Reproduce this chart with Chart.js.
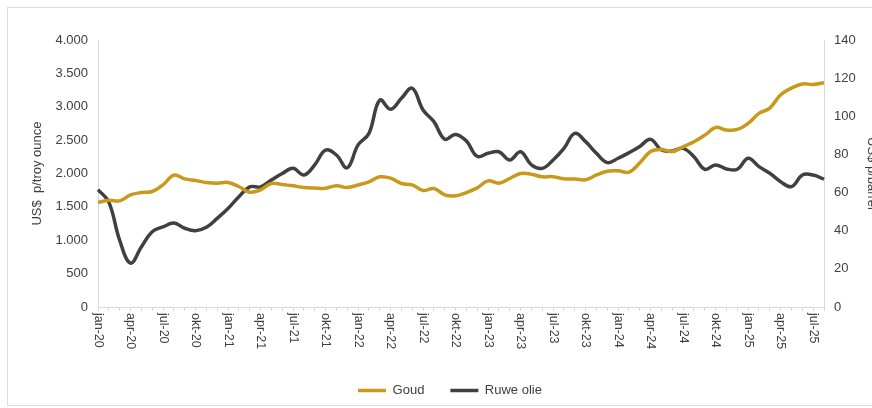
<!DOCTYPE html>
<html>
<head>
<meta charset="utf-8">
<script src="https://cdn.jsdelivr.net/npm/chart.js@4/dist/chart.umd.min.js"></script>
<style>
html,body{margin:0;padding:0;background:#fff;overflow:hidden;width:872px;height:408px;}
#frame{position:absolute;left:7px;top:7px;width:900px;height:397px;border:1px solid #dcdcdc;}
#wrap{position:absolute;left:0;top:0;width:880px;height:408px;}
</style>
</head>
<body>
<div id="frame"></div>
<div id="wrap"><canvas id="c" width="880" height="408"></canvas></div>
<script>
const categories = [
 "jan-20","feb-20","mrt-20","apr-20","mei-20","jun-20","jul-20","aug-20","sep-20","okt-20","nov-20","dec-20",
 "jan-21","feb-21","mrt-21","apr-21","mei-21","jun-21","jul-21","aug-21","sep-21","okt-21","nov-21","dec-21",
 "jan-22","feb-22","mrt-22","apr-22","mei-22","jun-22","jul-22","aug-22","sep-22","okt-22","nov-22","dec-22",
 "jan-23","feb-23","mrt-23","apr-23","mei-23","jun-23","jul-23","aug-23","sep-23","okt-23","nov-23","dec-23",
 "jan-24","feb-24","mrt-24","apr-24","mei-24","jun-24","jul-24","aug-24","sep-24","okt-24","nov-24","dec-24",
 "jan-25","feb-25","mrt-25","apr-25","mei-25","jun-25","jul-25","aug-25"
];
const goud = [
 1565,1600,1590,1680,1715,1730,1830,1975,1920,1895,1865,1855,
 1865,1805,1720,1755,1850,1835,1815,1790,1782,1778,1818,1790,
 1828,1875,1950,1930,1850,1830,1745,1775,1680,1665,1715,1785,
 1890,1855,1925,2000,1988,1950,1952,1920,1918,1905,1978,2035,
 2040,2020,2160,2330,2360,2328,2400,2475,2575,2690,2650,2660,
 2750,2900,2980,3180,3280,3340,3335,3360
];
const ruweOlie = [
 61.5,55,35,23,31.5,39.5,42,44,41.3,40,41.8,46.5,
 51.7,57.8,63,63,66.6,70,72.7,69.2,74.5,82.3,79.7,73,
 85,91,108.5,103.7,109.4,114.7,103.3,97.2,88,90.5,87,79,
 80.6,81.4,77.1,81.4,74.5,72.7,77.1,83.2,91,86.7,80.6,75.7,
 78,80.9,84.2,87.9,82.3,81.8,83.2,78.8,72.2,74.5,72.4,72.2,
 78,73.6,70.1,65.7,63.1,69.2,69.2,67
];
const seriesNames = ["Goud","Ruwe olie"];
const leftTitle = "US$  p/troy ounce";
const rightTitle = "US$ p/barrel";

// Rotated x labels reading top-to-bottom, starting at the axis
Chart.CategoryScale.prototype._getXAxisLabelAlignment = function(){ return 'left'; };

const TXT = '#404040';
const GRID = '#d9d9d9';
Chart.defaults.font.family = "'Liberation Sans', Arial, sans-serif";
Chart.defaults.color = TXT;

const fmt = v => String(v).replace(/\B(?=(\d{3})+(?!\d))/g, '.');

new Chart(document.getElementById('c'), {
  type: 'line',
  data: {
    labels: categories,
    datasets: [
      { label: seriesNames[0], data: goud, yAxisID: 'yL', borderColor: '#C8991A', backgroundColor: '#C8991A',
        borderWidth: 3.5, pointRadius: 0, tension: 0.4, fill: false },
      { label: seriesNames[1], data: ruweOlie, yAxisID: 'yR', borderColor: '#404040', backgroundColor: '#404040',
        borderWidth: 3.5, pointRadius: 0, tension: 0.4, fill: false }
    ]
  },
  options: {
    responsive: false,
    animation: false,
    devicePixelRatio: 1,
    layout: { padding: { left: 20, right: 0, top: 40, bottom: 1 } },
    plugins: {
      tooltip: { enabled: false },
      legend: {
        position: 'bottom',
        labels: { usePointStyle: true, pointStyle: 'line', pointStyleWidth: 28, boxHeight: 13,
                  padding: 26, font: { size: 13 }, color: TXT }
      }
    },
    scales: {
      x: {
        type: 'category',
        offset: false,
        grid: { display: true, drawOnChartArea: false, drawTicks: true, tickLength: 4, color: GRID },
        border: { display: true, color: GRID, width: 1 },
        ticks: {
          autoSkip: false, minRotation: -90, maxRotation: -90, padding: 2,
          font: { size: 12.5 }, color: TXT,
          callback: function(v, i){ return i % 3 === 0 ? categories[i] : ''; }
        },
        afterFit: s => { s.height = 51; }
      },
      yL: {
        position: 'left', min: 0, max: 4000,
        grid: { display: true, drawOnChartArea: false, drawTicks: false, color: GRID },
        border: { display: true, color: GRID, width: 1 },
        ticks: { stepSize: 500, padding: 10, font: { size: 13 }, color: TXT, callback: v => fmt(v) },
        title: { display: true, text: leftTitle, font: { size: 13 }, color: TXT, padding: { top: 10, bottom: 0 } },
        afterFit: s => { s.width = 78; }
      },
      yR: {
        position: 'right', min: 0, max: 140,
        grid: { display: true, drawOnChartArea: false, drawTicks: false, color: GRID },
        border: { display: true, color: GRID, width: 1 },
        ticks: { stepSize: 20, padding: 10, font: { size: 13 }, color: TXT },
        title: { display: true, text: rightTitle, font: { size: 13 }, color: TXT, padding: { top: 1, bottom: 0 } },
        afterFit: s => { s.width = 56; }
      }
    }
  }
});
</script>
</body>
</html>
